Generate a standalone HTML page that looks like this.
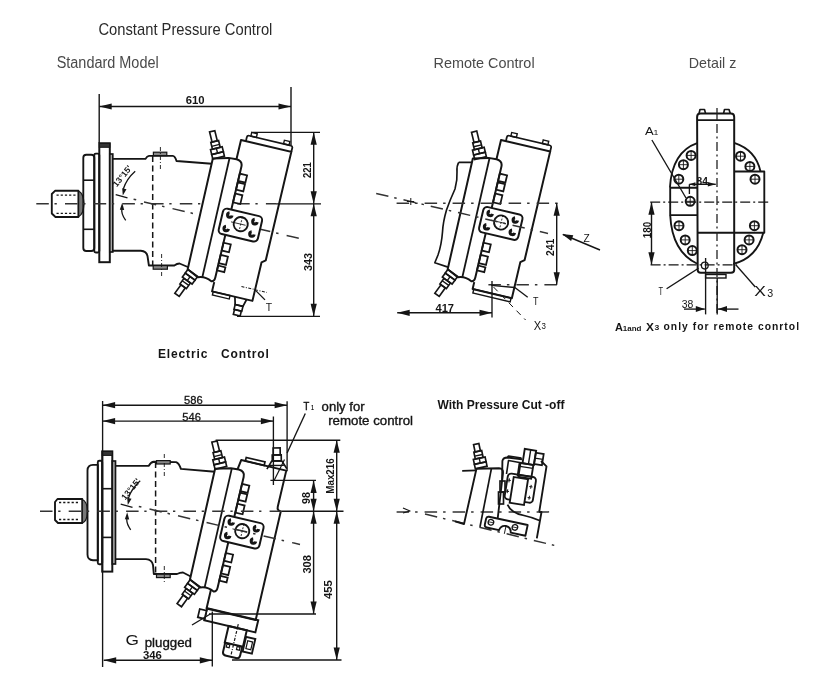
<!DOCTYPE html>
<html><head><meta charset="utf-8"><style>html,body{margin:0;padding:0;background:#fff;} svg{display:block}</style></head>
<body><svg width="822" height="676" viewBox="0 0 822 676">
<rect width="822" height="676" fill="#fff"/><g style="will-change:transform">
<text x="98.4" y="35" font-family="Liberation Sans" font-size="17" font-weight="normal" text-anchor="start" fill="#2a2a2a" textLength="174" lengthAdjust="spacingAndGlyphs">Constant Pressure Control</text>
<text x="56.7" y="67.8" font-family="Liberation Sans" font-size="16" font-weight="normal" text-anchor="start" fill="#4a4a4a" textLength="102" lengthAdjust="spacingAndGlyphs">Standard Model</text>
<text x="433.6" y="67.7" font-family="Liberation Sans" font-size="15" font-weight="normal" text-anchor="start" fill="#4a4a4a" textLength="101" lengthAdjust="spacingAndGlyphs">Remote Control</text>
<text x="688.8" y="67.7" font-family="Liberation Sans" font-size="15" font-weight="normal" text-anchor="start" fill="#4a4a4a" textLength="47.6" lengthAdjust="spacingAndGlyphs">Detail z</text>
<text x="157.9" y="357.5" font-family="Liberation Sans" font-size="12" font-weight="bold" text-anchor="start" fill="#151515" textLength="111" lengthAdjust="spacing">Electric&#160;&#160;&#160;Control</text>
<text x="437.5" y="409.3" font-family="Liberation Sans" font-size="13" font-weight="bold" text-anchor="start" fill="#151515" textLength="127" lengthAdjust="spacingAndGlyphs">With Pressure Cut -off</text>
<path d="M55,190.8 L78.4,190.8 L78.4,217 L55.5,217 L51.8,213.5 L51.8,194 Z" stroke="#151515" stroke-width="1.87" fill="none" stroke-linejoin="round"/>
<line x1="56.5" y1="195.1" x2="76" y2="195.1" stroke="#151515" stroke-width="1.3" stroke-dasharray="2.2 2"/>
<line x1="56.5" y1="213.3" x2="76" y2="213.3" stroke="#151515" stroke-width="1.3" stroke-dasharray="2.2 2"/>
<path d="M78.6,191 Q83.5,193 84,203.8 Q83.5,214.5 78.6,216.6 Z" stroke="#151515" stroke-width="1.2" fill="#777" stroke-linejoin="round"/>
<rect x="83.3" y="154.7" width="11.0" height="96.3" rx="3" stroke="#151515" stroke-width="1.87" fill="none"/>
<line x1="83.3" y1="180.2" x2="94.3" y2="180.2" stroke="#151515" stroke-width="1.6"/>
<line x1="83.3" y1="229.3" x2="94.3" y2="229.3" stroke="#151515" stroke-width="1.6"/>
<rect x="94.3" y="153.6" width="5.0" height="98.9" rx="1.5" stroke="#151515" stroke-width="1.87" fill="none"/>
<rect x="99.3" y="143.3" width="10.5" height="118.9" rx="0" stroke="#151515" stroke-width="1.98" fill="none"/>
<rect x="99.3" y="143.3" width="10.5" height="4.0" rx="0" stroke="#151515" stroke-width="1.0" fill="#333"/>
<rect x="109.8" y="154" width="3.0" height="98" rx="0" stroke="#151515" stroke-width="1.65" fill="#aaa"/>
<path d="M112.8,158.9 L145.5,158.9 Q147,156 149,155.9 L172.8,155.9 Q175,156 176.5,161 L211.8,163.8" stroke="#151515" stroke-width="1.87" fill="none" stroke-linejoin="round"/>
<path d="M112.8,250.7 L140.8,250.7 Q146.5,251 147.5,256 L148.9,265.5 L174.3,265.5 Q177,263.5 179.5,263.5 L189,267.5" stroke="#151515" stroke-width="1.87" fill="none" stroke-linejoin="round"/>
<rect x="153.4" y="152.2" width="13.4" height="3.4" rx="0" stroke="#151515" stroke-width="1.2" fill="#888"/>
<rect x="153.2" y="265.6" width="14.2" height="3.6" rx="0" stroke="#151515" stroke-width="1.2" fill="#888"/>
<line x1="152.7" y1="156" x2="152.7" y2="265.5" stroke="#151515" stroke-width="1.5" stroke-dasharray="6 3.5"/>
<line x1="160.4" y1="147" x2="160.4" y2="169" stroke="#151515" stroke-width="0.9" stroke-dasharray="4 2 1 2"/>
<line x1="161.6" y1="254" x2="161.6" y2="276" stroke="#151515" stroke-width="0.9" stroke-dasharray="4 2 1 2"/>
<line x1="115.7" y1="194.7" x2="127.5" y2="197.9" stroke="#151515" stroke-width="1.3"/>
<path d="M135.2,171.3 Q126.5,179 123.3,189" stroke="#151515" stroke-width="1.3" fill="none" stroke-linejoin="round"/>
<path d="M122.8,195.5 L122.2,188.2 L126.5,189.2 Z" fill="#151515"/>
<path d="M125.7,220.4 Q120.5,213 122.2,208" stroke="#151515" stroke-width="1.3" fill="none" stroke-linejoin="round"/>
<path d="M122.2,202.8 L124.2,209.9 L119.8,209.7 Z" fill="#151515"/>
<text x="124.5" y="178" font-family="Liberation Sans" font-size="8.5" font-weight="bold" text-anchor="middle" fill="#151515" transform="rotate(-51 124.5 178)">13°15'</text>
<line x1="36.3" y1="203.8" x2="276" y2="203.8" stroke="#333" stroke-width="1.6" stroke-dasharray="12.5 5.7 2.3 8.2"/>
<line x1="276" y1="203.8" x2="321" y2="203.8" stroke="#151515" stroke-width="1.35"/>
<line x1="133.6" y1="199.2" x2="136.2" y2="199.8" stroke="#333" stroke-width="1.5"/>
<line x1="144" y1="201.9" x2="300" y2="238.6" stroke="#333" stroke-width="1.5" stroke-dasharray="12.5 6 2.5 8.3"/>
<line x1="99.2" y1="94" x2="99.2" y2="143" stroke="#151515" stroke-width="1.4"/>
<line x1="291" y1="87" x2="291" y2="145" stroke="#151515" stroke-width="1.4"/>
<line x1="99.2" y1="106.5" x2="291" y2="106.5" stroke="#151515" stroke-width="1.4"/>
<path d="M99.2,106.5 L111.7,103.4 L111.7,109.6 Z" fill="#151515"/>
<path d="M291.0,106.5 L278.5,109.6 L278.5,103.4 Z" fill="#151515"/>
<text x="185.8" y="103.5" font-family="Liberation Sans" font-size="11" font-weight="bold" text-anchor="start" fill="#151515" textLength="18.87" lengthAdjust="spacingAndGlyphs">610</text>
<line x1="251" y1="132.3" x2="320" y2="132.3" stroke="#151515" stroke-width="1.35"/>
<line x1="237" y1="316.3" x2="320" y2="316.3" stroke="#151515" stroke-width="1.35"/>
<line x1="313.7" y1="132.3" x2="313.7" y2="203.8" stroke="#151515" stroke-width="1.4"/>
<path d="M313.7,132.3 L316.8,144.8 L310.6,144.8 Z" fill="#151515"/>
<path d="M313.7,203.8 L310.6,191.3 L316.8,191.3 Z" fill="#151515"/>
<line x1="313.7" y1="203.8" x2="313.7" y2="316.3" stroke="#151515" stroke-width="1.4"/>
<path d="M313.7,203.8 L316.8,216.3 L310.6,216.3 Z" fill="#151515"/>
<path d="M313.7,316.3 L310.6,303.8 L316.8,303.8 Z" fill="#151515"/>
<text x="311.3" y="178.1" font-family="Liberation Sans" font-size="10.5" font-weight="bold" text-anchor="start" fill="#151515" textLength="15.88" lengthAdjust="spacingAndGlyphs" transform="rotate(-90 311.3 178.1)">221</text>
<text x="311.6" y="271.0" font-family="Liberation Sans" font-size="11" font-weight="bold" text-anchor="start" fill="#151515" textLength="18.05" lengthAdjust="spacingAndGlyphs" transform="rotate(-90 311.6 271.0)">343</text>
<g transform="translate(0 0) rotate(13.25 153 204)">
<path d="M224,146 L224,121.5 L275.7,121.5 L275.7,233 L272.0,236 L272.0,275.5 L230.5,275.5 L230.5,266" stroke="#151515" stroke-width="1.98" fill="none" stroke-linejoin="round"/>
<path d="M229,121.5 L229,117.5 Q229,115.5 231,115.5 L273.7,115.5 Q275.7,115.5 275.7,117.5 L275.7,121.5" stroke="#151515" stroke-width="1.76" fill="none" stroke-linejoin="round"/>
<rect x="232.7" y="111.8" width="5.7" height="3.7" rx="0" stroke="#151515" stroke-width="1.4" fill="none"/>
<rect x="266.3" y="111.8" width="5.6" height="3.7" rx="0" stroke="#151515" stroke-width="1.4" fill="none"/>
<g transform="translate(0 0)">
<path d="M201.7,259.5 L200.8,146 L216,141.8 L224,141.3 Q230.5,141.5 230.5,147.5 L230.5,261 Q230.5,265.5 227.5,265.8 Q220,262 213.3,265 Z" stroke="#151515" stroke-width="1.98" fill="#fff" stroke-linejoin="round"/>
<line x1="217" y1="142" x2="217.8" y2="263.6" stroke="#151515" stroke-width="1.8"/>
<rect x="230.5" y="154.5" width="7.5" height="7.5" rx="0" stroke="#151515" stroke-width="1.76" fill="none"/>
<rect x="230.5" y="163.5" width="7.5" height="7.5" rx="0" stroke="#151515" stroke-width="1.76" fill="none"/>
<rect x="230.5" y="175" width="7.5" height="9" rx="0" stroke="#151515" stroke-width="1.76" fill="none"/>
<rect x="230.5" y="225.5" width="7.5" height="8.0" rx="0" stroke="#151515" stroke-width="1.76" fill="none"/>
<rect x="230.5" y="238" width="7.5" height="8.5" rx="0" stroke="#151515" stroke-width="1.76" fill="none"/>
<rect x="230.5" y="249" width="7.5" height="5" rx="0" stroke="#151515" stroke-width="1.76" fill="none"/>
<g transform="translate(206.2 143.7) rotate(-27) scale(1.0)">
<rect x="-6" y="-4.5" width="12" height="4.5" rx="0" stroke="#151515" stroke-width="1.65" fill="none"/>
<rect x="-6" y="-9.5" width="12" height="5.0" rx="0" stroke="#151515" stroke-width="1.65" fill="none"/>
<line x1="0" y1="-9.5" x2="0" y2="-4.5" stroke="#151515" stroke-width="1.4"/>
<rect x="-4" y="-16.5" width="8" height="7.0" rx="0" stroke="#151515" stroke-width="1.65" fill="none"/>
<line x1="-4" y1="-12.5" x2="4" y2="-12.5" stroke="#151515" stroke-width="1.4"/>
<rect x="-2.7" y="-27" width="5.4" height="10.5" rx="0" stroke="#151515" stroke-width="1.65" fill="none"/>
</g>
</g>
<g transform="translate(0 0)">
<rect x="222.8" y="191.5" width="40.2" height="26.0" rx="4" stroke="#151515" stroke-width="1.98" fill="#fff"/>
<circle cx="243" cy="203.5" r="7.1" stroke="#151515" stroke-width="1.87" fill="none"/>
<line x1="233" y1="203.5" x2="248" y2="203.5" stroke="#151515" stroke-width="0.8"/>
<line x1="243" y1="196" x2="243" y2="211" stroke="#151515" stroke-width="0.8" stroke-dasharray="2 1.5"/>
<path d="M232.60,197.10 A2.3,2.3 0 1 1 229.51,194.94" stroke="#151515" stroke-width="3" fill="none"/>
<path d="M258.60,197.80 A2.3,2.3 0 1 1 255.51,195.64" stroke="#151515" stroke-width="3" fill="none"/>
<path d="M232.20,211.00 A2.3,2.3 0 1 1 229.11,208.84" stroke="#151515" stroke-width="3" fill="none"/>
<path d="M258.50,210.50 A2.3,2.3 0 1 1 255.41,208.34" stroke="#151515" stroke-width="3" fill="none"/>
</g>
<g transform="translate(207.5 262) rotate(202.4) scale(1.0)">
<rect x="-6" y="-4.5" width="12" height="4.5" rx="0" stroke="#151515" stroke-width="1.65" fill="none"/>
<rect x="-6" y="-9.5" width="12" height="5.0" rx="0" stroke="#151515" stroke-width="1.65" fill="none"/>
<line x1="0" y1="-9.5" x2="0" y2="-4.5" stroke="#151515" stroke-width="1.4"/>
<rect x="-4" y="-16.5" width="8" height="7.0" rx="0" stroke="#151515" stroke-width="1.65" fill="none"/>
<line x1="-4" y1="-12.5" x2="4" y2="-12.5" stroke="#151515" stroke-width="1.4"/>
<rect x="-2.7" y="-27" width="5.4" height="10.5" rx="0" stroke="#151515" stroke-width="1.65" fill="none"/>
</g>
<rect x="231.7" y="275.5" width="17.3" height="3.5" rx="0" stroke="#151515" stroke-width="1.4" fill="none"/>
<path d="M254,275.5 L256,283 L264,283 L266,275.5" stroke="#151515" stroke-width="1.76" fill="none" stroke-linejoin="round"/>
<rect x="256" y="283" width="8" height="5" rx="0" stroke="#151515" stroke-width="1.65" fill="none"/>
<rect x="256.5" y="288" width="7.0" height="5" rx="0" stroke="#151515" stroke-width="1.65" fill="none"/>
<line x1="258" y1="264" x2="284" y2="264" stroke="#151515" stroke-width="1.0" stroke-dasharray="3 1.5 1 1.5"/>
</g>
<line x1="254.8" y1="289.6" x2="265" y2="299.9" stroke="#151515" stroke-width="1.35"/>
<text x="265.7" y="310.8" font-family="Liberation Sans" font-size="11" font-weight="normal" text-anchor="start" fill="#151515" textLength="6.35" lengthAdjust="spacingAndGlyphs">T</text>
<path d="M458.7,162.4 L472,162.4 M458.7,162.4 Q456.5,166 457,172 Q457.5,180 455,189 Q450,200 446.5,210 Q443,222 442.5,232 Q441.5,245 438,255 L434.8,262.7 L448,267.1" stroke="#151515" stroke-width="1.65" fill="none" stroke-linejoin="round"/>
<g transform="translate(260 0) rotate(13.25 153 204)">
<path d="M224,146 L224,121.5 L274.5,121.5 L274.5,233 L270.8,236 L270.8,273 L230.5,273 L230.5,266" stroke="#151515" stroke-width="1.98" fill="none" stroke-linejoin="round"/>
<path d="M229,121.5 L229,117.5 Q229,115.5 231,115.5 L272.5,115.5 Q274.5,115.5 274.5,117.5 L274.5,121.5" stroke="#151515" stroke-width="1.76" fill="none" stroke-linejoin="round"/>
<rect x="232.7" y="111.8" width="5.7" height="3.7" rx="0" stroke="#151515" stroke-width="1.4" fill="none"/>
<rect x="265.1" y="111.8" width="5.6" height="3.7" rx="0" stroke="#151515" stroke-width="1.4" fill="none"/>
<g transform="translate(0 0)">
<path d="M201.7,259.5 L200.8,146 L216,141.8 L224,141.3 Q230.5,141.5 230.5,147.5 L230.5,261 Q230.5,265.5 227.5,265.8 Q220,262 213.3,265 Z" stroke="#151515" stroke-width="1.98" fill="#fff" stroke-linejoin="round"/>
<line x1="217" y1="142" x2="217.8" y2="263.6" stroke="#151515" stroke-width="1.8"/>
<rect x="230.5" y="154.5" width="7.5" height="7.5" rx="0" stroke="#151515" stroke-width="1.76" fill="none"/>
<rect x="230.5" y="163.5" width="7.5" height="7.5" rx="0" stroke="#151515" stroke-width="1.76" fill="none"/>
<rect x="230.5" y="175" width="7.5" height="9" rx="0" stroke="#151515" stroke-width="1.76" fill="none"/>
<rect x="230.5" y="225.5" width="7.5" height="8.0" rx="0" stroke="#151515" stroke-width="1.76" fill="none"/>
<rect x="230.5" y="238" width="7.5" height="8.5" rx="0" stroke="#151515" stroke-width="1.76" fill="none"/>
<rect x="230.5" y="249" width="7.5" height="5" rx="0" stroke="#151515" stroke-width="1.76" fill="none"/>
<g transform="translate(208.2 143.7) rotate(-27) scale(1.0)">
<rect x="-6" y="-4.5" width="12" height="4.5" rx="0" stroke="#151515" stroke-width="1.65" fill="none"/>
<rect x="-6" y="-9.5" width="12" height="5.0" rx="0" stroke="#151515" stroke-width="1.65" fill="none"/>
<line x1="0" y1="-9.5" x2="0" y2="-4.5" stroke="#151515" stroke-width="1.4"/>
<rect x="-4" y="-16.5" width="8" height="7.0" rx="0" stroke="#151515" stroke-width="1.65" fill="none"/>
<line x1="-4" y1="-12.5" x2="4" y2="-12.5" stroke="#151515" stroke-width="1.4"/>
<rect x="-2.7" y="-27" width="5.4" height="10.5" rx="0" stroke="#151515" stroke-width="1.65" fill="none"/>
</g>
<g transform="translate(207.5 262) rotate(202.4) scale(1.0)">
<rect x="-6" y="-4.5" width="12" height="4.5" rx="0" stroke="#151515" stroke-width="1.65" fill="none"/>
<rect x="-6" y="-9.5" width="12" height="5.0" rx="0" stroke="#151515" stroke-width="1.65" fill="none"/>
<line x1="0" y1="-9.5" x2="0" y2="-4.5" stroke="#151515" stroke-width="1.4"/>
<rect x="-4" y="-16.5" width="8" height="7.0" rx="0" stroke="#151515" stroke-width="1.65" fill="none"/>
<line x1="-4" y1="-12.5" x2="4" y2="-12.5" stroke="#151515" stroke-width="1.4"/>
<rect x="-2.7" y="-27" width="5.4" height="10.5" rx="0" stroke="#151515" stroke-width="1.65" fill="none"/>
</g>
</g>
<g transform="translate(0 -1.7)">
<rect x="222.8" y="191.5" width="40.2" height="26.0" rx="4" stroke="#151515" stroke-width="1.98" fill="#fff"/>
<circle cx="243" cy="203.5" r="7.1" stroke="#151515" stroke-width="1.87" fill="none"/>
<line x1="233" y1="203.5" x2="248" y2="203.5" stroke="#151515" stroke-width="0.8"/>
<line x1="243" y1="196" x2="243" y2="211" stroke="#151515" stroke-width="0.8" stroke-dasharray="2 1.5"/>
<path d="M232.60,197.10 A2.3,2.3 0 1 1 229.51,194.94" stroke="#151515" stroke-width="3" fill="none"/>
<path d="M258.60,197.80 A2.3,2.3 0 1 1 255.51,195.64" stroke="#151515" stroke-width="3" fill="none"/>
<path d="M232.20,211.00 A2.3,2.3 0 1 1 229.11,208.84" stroke="#151515" stroke-width="3" fill="none"/>
<path d="M258.50,210.50 A2.3,2.3 0 1 1 255.41,208.34" stroke="#151515" stroke-width="3" fill="none"/>
</g>
<rect x="231.7" y="273" width="38.3" height="4" rx="0" stroke="#151515" stroke-width="1.4" fill="none"/>
</g>
<line x1="396.6" y1="203.2" x2="562" y2="203.2" stroke="#333" stroke-width="1.6" stroke-dasharray="12.5 6 2.5 7"/>
<line x1="376.2" y1="193.5" x2="548" y2="233.5" stroke="#333" stroke-width="1.5" stroke-dasharray="12.5 6 2.5 7"/>
<line x1="410.8" y1="198" x2="410.8" y2="205" stroke="#151515" stroke-width="1.0"/>
<line x1="407" y1="201.5" x2="414" y2="201.5" stroke="#151515" stroke-width="1.0"/>
<line x1="488.4" y1="284.7" x2="560" y2="284.7" stroke="#333" stroke-width="1.5" stroke-dasharray="12.5 6 2.5 7"/>
<line x1="556.7" y1="203.2" x2="556.7" y2="284.7" stroke="#151515" stroke-width="1.4"/>
<path d="M556.7,203.2 L559.8,215.7 L553.6,215.7 Z" fill="#151515"/>
<path d="M556.7,284.7 L553.6,272.2 L559.8,272.2 Z" fill="#151515"/>
<text x="554.2" y="255.9" font-family="Liberation Sans" font-size="11" font-weight="bold" text-anchor="start" fill="#151515" textLength="17.24" lengthAdjust="spacingAndGlyphs" transform="rotate(-90 554.2 255.9)">241</text>
<line x1="492" y1="281" x2="492" y2="317.4" stroke="#151515" stroke-width="1.35"/>
<line x1="397.2" y1="312.8" x2="492" y2="312.8" stroke="#151515" stroke-width="1.4"/>
<path d="M397.2,312.8 L409.7,309.7 L409.7,315.9 Z" fill="#151515"/>
<path d="M492.0,312.8 L479.5,315.9 L479.5,309.7 Z" fill="#151515"/>
<text x="435.5" y="312.2" font-family="Liberation Sans" font-size="11" font-weight="bold" text-anchor="start" fill="#151515" textLength="18.56" lengthAdjust="spacingAndGlyphs">417</text>
<line x1="491.3" y1="285.3" x2="514.7" y2="287.5" stroke="#151515" stroke-width="1.35"/>
<line x1="514.2" y1="287" x2="527.7" y2="297.3" stroke="#151515" stroke-width="1.35"/>
<text x="533.0" y="304.6" font-family="Liberation Sans" font-size="11" font-weight="normal" text-anchor="start" fill="#151515" textLength="5.48" lengthAdjust="spacingAndGlyphs">T</text>
<line x1="493.5" y1="287" x2="525.6" y2="320" stroke="#151515" stroke-width="1.0" stroke-dasharray="6 5"/>
<text x="533.8" y="330.0" font-family="Liberation Sans" font-size="12" font-weight="normal" text-anchor="start" fill="#151515" textLength="7.41" lengthAdjust="spacingAndGlyphs">X</text>
<text x="541.6" y="328.6" font-family="Liberation Sans" font-size="9" font-weight="normal" text-anchor="start" fill="#151515" textLength="4.41" lengthAdjust="spacingAndGlyphs">3</text>
<line x1="563" y1="234.5" x2="600" y2="250" stroke="#151515" stroke-width="1.4"/>
<path d="M562.0,234.0 L573.3,235.3 L571.1,240.9 Z" fill="#151515"/>
<text x="583.5" y="242.0" font-family="Liberation Sans" font-size="11" font-weight="normal" text-anchor="start" fill="#151515" textLength="6.25" lengthAdjust="spacingAndGlyphs">Z</text>
<path d="M697.1,143.2 Q672,152 669.9,187.7" stroke="#151515" stroke-width="1.87" fill="none" stroke-linejoin="round"/>
<path d="M734.2,142.8 Q756,150 760.5,171.5" stroke="#151515" stroke-width="1.87" fill="none" stroke-linejoin="round"/>
<path d="M670.2,215.1 Q672,252 697.7,264" stroke="#151515" stroke-width="1.87" fill="none" stroke-linejoin="round"/>
<path d="M763.3,232.8 Q757,258 733.2,264" stroke="#151515" stroke-width="1.87" fill="none" stroke-linejoin="round"/>
<path d="M669.9,187.7 L697.1,187.7 M670.2,187.7 L670.2,215.1 L697.7,215.1" stroke="#151515" stroke-width="1.87" fill="none" stroke-linejoin="round"/>
<path d="M734.2,171.5 L764.3,171.5 L764.3,232.8 L697.7,232.8" stroke="#151515" stroke-width="1.87" fill="none" stroke-linejoin="round"/>
<path d="M697.1,117 Q697.1,113.6 700.5,113.6 L730.8,113.6 Q734.2,113.6 734.2,117 L734.2,270 Q734.2,272.7 731,272.7 L700.7,272.7 Q697.7,272.7 697.7,270 Z" stroke="#151515" stroke-width="1.98" fill="none" stroke-linejoin="round"/>
<line x1="697.1" y1="120.1" x2="734.2" y2="120.1" stroke="#151515" stroke-width="1.6"/>
<path d="M699,113.6 L700,109.5 L704.5,109.5 L705.6,113.6" stroke="#151515" stroke-width="1.65" fill="none" stroke-linejoin="round"/>
<path d="M723.5,113.6 L724.5,109.5 L729,109.5 L730.3,113.6" stroke="#151515" stroke-width="1.65" fill="none" stroke-linejoin="round"/>
<rect x="705.6" y="274.5" width="20.4" height="3.5" rx="0" stroke="#151515" stroke-width="1.4" fill="none"/>
<line x1="717" y1="108" x2="717" y2="120" stroke="#222" stroke-width="1.3"/>
<line x1="717" y1="124" x2="717" y2="314" stroke="#222" stroke-width="1.3" stroke-dasharray="9 3.5 2 3.5"/>
<circle cx="691.1" cy="155.4" r="4.5" stroke="#151515" stroke-width="1.98" fill="none"/>
<line x1="686.6" y1="155.4" x2="695.6" y2="155.4" stroke="#151515" stroke-width="0.9"/>
<line x1="691.1" y1="150.9" x2="691.1" y2="159.9" stroke="#151515" stroke-width="0.9"/>
<circle cx="683.4" cy="164.7" r="4.5" stroke="#151515" stroke-width="1.98" fill="none"/>
<line x1="678.9" y1="164.7" x2="687.9" y2="164.7" stroke="#151515" stroke-width="0.9"/>
<line x1="683.4" y1="160.2" x2="683.4" y2="169.2" stroke="#151515" stroke-width="0.9"/>
<circle cx="678.8" cy="179.2" r="4.5" stroke="#151515" stroke-width="1.98" fill="none"/>
<line x1="674.3" y1="179.2" x2="683.3" y2="179.2" stroke="#151515" stroke-width="0.9"/>
<line x1="678.8" y1="174.7" x2="678.8" y2="183.7" stroke="#151515" stroke-width="0.9"/>
<circle cx="690.2" cy="201.3" r="4.5" stroke="#151515" stroke-width="1.98" fill="none"/>
<line x1="685.7" y1="201.3" x2="694.7" y2="201.3" stroke="#151515" stroke-width="0.9"/>
<line x1="690.2" y1="196.8" x2="690.2" y2="205.8" stroke="#151515" stroke-width="0.9"/>
<circle cx="679" cy="225.7" r="4.5" stroke="#151515" stroke-width="1.98" fill="none"/>
<line x1="674.5" y1="225.7" x2="683.5" y2="225.7" stroke="#151515" stroke-width="0.9"/>
<line x1="679" y1="221.2" x2="679" y2="230.2" stroke="#151515" stroke-width="0.9"/>
<circle cx="685.2" cy="239.9" r="4.5" stroke="#151515" stroke-width="1.98" fill="none"/>
<line x1="680.7" y1="239.9" x2="689.7" y2="239.9" stroke="#151515" stroke-width="0.9"/>
<line x1="685.2" y1="235.4" x2="685.2" y2="244.4" stroke="#151515" stroke-width="0.9"/>
<circle cx="692.3" cy="250.6" r="4.5" stroke="#151515" stroke-width="1.98" fill="none"/>
<line x1="687.8" y1="250.6" x2="696.8" y2="250.6" stroke="#151515" stroke-width="0.9"/>
<line x1="692.3" y1="246.1" x2="692.3" y2="255.1" stroke="#151515" stroke-width="0.9"/>
<circle cx="740.5" cy="156.2" r="4.5" stroke="#151515" stroke-width="1.98" fill="none"/>
<line x1="736.0" y1="156.2" x2="745.0" y2="156.2" stroke="#151515" stroke-width="0.9"/>
<line x1="740.5" y1="151.7" x2="740.5" y2="160.7" stroke="#151515" stroke-width="0.9"/>
<circle cx="749.9" cy="166.4" r="4.5" stroke="#151515" stroke-width="1.98" fill="none"/>
<line x1="745.4" y1="166.4" x2="754.4" y2="166.4" stroke="#151515" stroke-width="0.9"/>
<line x1="749.9" y1="161.9" x2="749.9" y2="170.9" stroke="#151515" stroke-width="0.9"/>
<circle cx="755" cy="179.2" r="4.5" stroke="#151515" stroke-width="1.98" fill="none"/>
<line x1="750.5" y1="179.2" x2="759.5" y2="179.2" stroke="#151515" stroke-width="0.9"/>
<line x1="755" y1="174.7" x2="755" y2="183.7" stroke="#151515" stroke-width="0.9"/>
<circle cx="754.4" cy="225.7" r="4.5" stroke="#151515" stroke-width="1.98" fill="none"/>
<line x1="749.9" y1="225.7" x2="758.9" y2="225.7" stroke="#151515" stroke-width="0.9"/>
<line x1="754.4" y1="221.2" x2="754.4" y2="230.2" stroke="#151515" stroke-width="0.9"/>
<circle cx="749.1" cy="239.9" r="4.5" stroke="#151515" stroke-width="1.98" fill="none"/>
<line x1="744.6" y1="239.9" x2="753.6" y2="239.9" stroke="#151515" stroke-width="0.9"/>
<line x1="749.1" y1="235.4" x2="749.1" y2="244.4" stroke="#151515" stroke-width="0.9"/>
<circle cx="742" cy="249.7" r="4.5" stroke="#151515" stroke-width="1.98" fill="none"/>
<line x1="737.5" y1="249.7" x2="746.5" y2="249.7" stroke="#151515" stroke-width="0.9"/>
<line x1="742" y1="245.2" x2="742" y2="254.2" stroke="#151515" stroke-width="0.9"/>
<circle cx="704.8" cy="265.6" r="3.4" stroke="#151515" stroke-width="1.3" fill="none"/>
<line x1="650.2" y1="202.2" x2="769.4" y2="202.2" stroke="#151515" stroke-width="1.2" stroke-dasharray="10 3 2 3"/>
<line x1="650.6" y1="264.8" x2="736.7" y2="264.8" stroke="#151515" stroke-width="1.2" stroke-dasharray="10 3 2 3"/>
<line x1="651.5" y1="202.2" x2="651.5" y2="264.8" stroke="#151515" stroke-width="1.4"/>
<path d="M651.5,202.2 L654.6,214.7 L648.4,214.7 Z" fill="#151515"/>
<path d="M651.5,264.8 L648.4,252.3 L654.6,252.3 Z" fill="#151515"/>
<text x="650.7" y="238.2" font-family="Liberation Sans" font-size="10" font-weight="bold" text-anchor="start" fill="#151515" textLength="16.58" lengthAdjust="spacingAndGlyphs" transform="rotate(-90 650.7 238.2)">180</text>
<line x1="689.4" y1="184.3" x2="715.8" y2="184.3" stroke="#151515" stroke-width="1.35"/>
<path d="M715.8,184.3 L707.8,186.5 L707.8,182.1 Z" fill="#151515"/>
<path d="M689.4,184.3 L695.4,182.3 L695.4,186.3 Z" fill="#151515"/>
<line x1="689.4" y1="184.3" x2="689.4" y2="194" stroke="#151515" stroke-width="1.35"/>
<text x="696.6" y="184.8" font-family="Liberation Sans" font-size="10" font-weight="bold" text-anchor="start" fill="#151515" textLength="11.33" lengthAdjust="spacingAndGlyphs">84</text>
<text x="645.1" y="134.5" font-family="Liberation Sans" font-size="11" font-weight="normal" text-anchor="start" fill="#151515" textLength="8.71" lengthAdjust="spacingAndGlyphs">A</text>
<text x="653.6" y="134.5" font-family="Liberation Sans" font-size="7.5" font-weight="normal" text-anchor="start" fill="#151515" textLength="4.87" lengthAdjust="spacingAndGlyphs">1</text>
<line x1="651.9" y1="140" x2="686" y2="198" stroke="#151515" stroke-width="1.35"/>
<line x1="666.6" y1="288.7" x2="698.5" y2="268.3" stroke="#151515" stroke-width="1.35"/>
<text x="658.6" y="294.9" font-family="Liberation Sans" font-size="10" font-weight="normal" text-anchor="start" fill="#151515" textLength="4.58" lengthAdjust="spacingAndGlyphs">T</text>
<line x1="735.8" y1="264.8" x2="755.3" y2="287" stroke="#151515" stroke-width="1.35"/>
<text x="754.3" y="296.0" font-family="Liberation Sans" font-size="15" font-weight="normal" text-anchor="start" fill="#151515" textLength="11.62" lengthAdjust="spacingAndGlyphs">X</text>
<text x="767.2" y="296.7" font-family="Liberation Sans" font-size="11" font-weight="normal" text-anchor="start" fill="#151515" textLength="5.92" lengthAdjust="spacingAndGlyphs">3</text>
<line x1="705.6" y1="258" x2="705.6" y2="314.4" stroke="#151515" stroke-width="1.35"/>
<line x1="717.2" y1="278" x2="717.2" y2="314.4" stroke="#151515" stroke-width="1.35"/>
<line x1="684" y1="309.1" x2="704.8" y2="309.1" stroke="#151515" stroke-width="1.35"/>
<path d="M704.8,309.1 L695.8,312.1 L695.8,306.1 Z" fill="#151515"/>
<line x1="718" y1="309.1" x2="738.5" y2="309.1" stroke="#151515" stroke-width="1.35"/>
<path d="M718.0,309.1 L727.0,306.1 L727.0,312.1 Z" fill="#151515"/>
<text x="681.7" y="308.2" font-family="Liberation Sans" font-size="10" font-weight="normal" text-anchor="start" fill="#151515" textLength="11.63" lengthAdjust="spacingAndGlyphs">38</text>
<text x="614.9" y="330.9" font-family="Liberation Sans" font-size="10.5" font-weight="bold" text-anchor="start" fill="#151515" textLength="7.92" lengthAdjust="spacingAndGlyphs">A</text>
<text x="622.8" y="330.6" font-family="Liberation Sans" font-size="7" font-weight="bold" text-anchor="start" fill="#151515" textLength="18.59" lengthAdjust="spacingAndGlyphs">1and</text>
<text x="645.9" y="330.9" font-family="Liberation Sans" font-size="10.5" font-weight="bold" text-anchor="start" fill="#151515" textLength="7.92" lengthAdjust="spacingAndGlyphs">X</text>
<text x="654.4" y="329.5" font-family="Liberation Sans" font-size="8" font-weight="bold" text-anchor="start" fill="#151515" textLength="4.79" lengthAdjust="spacingAndGlyphs">3</text>
<text x="663.5" y="330.3" font-family="Liberation Sans" font-size="10.3" font-weight="bold" text-anchor="start" fill="#151515" textLength="135.5" lengthAdjust="spacing">only for remote conrtol</text>
<path d="M57.5,499 L82.3,499 L82.3,523 L58,523 L55,520 L55,502 Z" stroke="#151515" stroke-width="1.87" fill="none" stroke-linejoin="round"/>
<line x1="59" y1="502.5" x2="80" y2="502.5" stroke="#151515" stroke-width="1.3" stroke-dasharray="2.2 2"/>
<line x1="59" y1="519.5" x2="80" y2="519.5" stroke="#151515" stroke-width="1.3" stroke-dasharray="2.2 2"/>
<path d="M82.3,499.5 Q87,501 87.5,511.5 Q87,522 82.3,523 Z" stroke="#151515" stroke-width="1.2" fill="#777" stroke-linejoin="round"/>
<path d="M97.8,464.9 L93,464.9 Q87.5,464.9 87.5,470.5 L87.5,554.6 Q87.5,560.2 93,560.2 L97.8,560.2 Z" stroke="#151515" stroke-width="1.87" fill="none" stroke-linejoin="round"/>
<rect x="97.8" y="460.7" width="4.4" height="103.6" rx="1.5" stroke="#151515" stroke-width="1.87" fill="none"/>
<rect x="102.2" y="451.4" width="10.1" height="120.2" rx="0" stroke="#151515" stroke-width="1.98" fill="none"/>
<rect x="102.2" y="451.4" width="10.1" height="4.0" rx="0" stroke="#151515" stroke-width="1.0" fill="#333"/>
<line x1="102.2" y1="488.7" x2="112.3" y2="488.7" stroke="#151515" stroke-width="1.6"/>
<line x1="102.2" y1="537.4" x2="112.3" y2="537.4" stroke="#151515" stroke-width="1.6"/>
<rect x="112.3" y="461" width="3.2" height="103" rx="0" stroke="#151515" stroke-width="1.65" fill="#aaa"/>
<path d="M115.5,465.9 L148.6,465.9 Q151,462 153.8,461.8 L176,462.1 Q179,463 180.9,468.9 L215,471.8" stroke="#151515" stroke-width="1.87" fill="none" stroke-linejoin="round"/>
<path d="M115.5,559.1 L146,559.1 Q152,559.5 153,565 L153.8,574 L177,574 Q180,572.5 183,572.5 L192.7,577.5" stroke="#151515" stroke-width="1.87" fill="none" stroke-linejoin="round"/>
<rect x="156.5" y="460.6" width="13.7" height="3.4" rx="0" stroke="#151515" stroke-width="1.2" fill="#888"/>
<rect x="156.5" y="574.2" width="13.7" height="3.4" rx="0" stroke="#151515" stroke-width="1.2" fill="#888"/>
<line x1="155.6" y1="462" x2="155.6" y2="574" stroke="#151515" stroke-width="1.5" stroke-dasharray="6 3.5"/>
<line x1="164.3" y1="454" x2="164.3" y2="476" stroke="#151515" stroke-width="0.9" stroke-dasharray="4 2 1 2"/>
<line x1="164.3" y1="566" x2="164.3" y2="584" stroke="#151515" stroke-width="0.9" stroke-dasharray="4 2 1 2"/>
<line x1="120.7" y1="504.2" x2="132.5" y2="507.4" stroke="#151515" stroke-width="1.3"/>
<path d="M140.2,480.8 Q131.5,488.5 128.3,498.5" stroke="#151515" stroke-width="1.3" fill="none" stroke-linejoin="round"/>
<path d="M127.8,505.0 L127.2,497.7 L131.5,498.7 Z" fill="#151515"/>
<path d="M130.7,529.9 Q125.5,522.5 127.2,517.5" stroke="#151515" stroke-width="1.3" fill="none" stroke-linejoin="round"/>
<path d="M127.2,512.3 L129.2,519.4 L124.8,519.2 Z" fill="#151515"/>
<text x="133.0" y="491.0" font-family="Liberation Sans" font-size="8.5" font-weight="bold" text-anchor="middle" fill="#151515" transform="rotate(-51 133.0 491.0)">13°15'</text>
<g transform="translate(1.5 307) rotate(13.25 153 204)">
<path d="M224,146 L225.7,134.5 L272,134.5 L272,171.6 Q272,175.5 276,175.5 L276.5,287 L226,287 L226,266" stroke="#151515" stroke-width="1.98" fill="none" stroke-linejoin="round"/>
<rect x="230" y="130.8" width="19.3" height="3.7" rx="0" stroke="#151515" stroke-width="1.65" fill="none"/>
<g transform="translate(262.5 135) rotate(-14)">
<path d="M-10,0 L-5,-8 L5,-8 L10,0" stroke="#151515" stroke-width="1.65" fill="none" stroke-linejoin="round"/>
<line x1="-7" y1="-3.5" x2="7" y2="-3.5" stroke="#151515" stroke-width="1.4"/>
<rect x="-4.5" y="-14" width="9.0" height="6" rx="0" stroke="#151515" stroke-width="1.65" fill="none"/>
<rect x="-3.5" y="-21" width="7.0" height="7" rx="0" stroke="#151515" stroke-width="1.65" fill="none"/>
</g>
<rect x="226.5" y="286.5" width="52.5" height="12.5" rx="0" stroke="#151515" stroke-width="1.98" fill="none"/>
<rect x="219.5" y="289" width="7.0" height="8.5" rx="0" stroke="#151515" stroke-width="1.76" fill="#fff"/>
<rect x="251.5" y="299" width="18.7" height="16.8" rx="0" stroke="#151515" stroke-width="1.98" fill="none"/>
<path d="M252,315.8 L252,325 Q252,328.5 256,328.5 L266,328.5 Q269.5,328.5 269.5,325 L269.5,315.8" stroke="#151515" stroke-width="1.98" fill="none" stroke-linejoin="round"/>
<rect x="254" y="317" width="3" height="3" rx="0" stroke="#151515" stroke-width="1.2" fill="none"/>
<rect x="264.5" y="317" width="3.0" height="3" rx="0" stroke="#151515" stroke-width="1.2" fill="none"/>
<line x1="260.5" y1="295" x2="260.5" y2="326" stroke="#151515" stroke-width="1.2" stroke-dasharray="3 1.5 1 1.5"/>
<rect x="271" y="305.5" width="9.5" height="15.0" rx="0" stroke="#151515" stroke-width="1.87" fill="none"/>
<rect x="273.5" y="309" width="5.0" height="8" rx="0" stroke="#151515" stroke-width="1.2" fill="none"/>
<g transform="translate(1.5 3)">
<path d="M201.7,259.5 L200.8,146 L216,141.8 L224,141.3 Q230.5,141.5 230.5,147.5 L230.5,261 Q230.5,265.5 227.5,265.8 Q220,262 213.3,265 Z" stroke="#151515" stroke-width="1.98" fill="#fff" stroke-linejoin="round"/>
<line x1="217" y1="142" x2="217.8" y2="263.6" stroke="#151515" stroke-width="1.8"/>
<rect x="230.5" y="154.5" width="7.5" height="7.5" rx="0" stroke="#151515" stroke-width="1.76" fill="none"/>
<rect x="230.5" y="163.5" width="7.5" height="7.5" rx="0" stroke="#151515" stroke-width="1.76" fill="none"/>
<rect x="230.5" y="175" width="7.5" height="9" rx="0" stroke="#151515" stroke-width="1.76" fill="none"/>
<rect x="230.5" y="225.5" width="7.5" height="8.0" rx="0" stroke="#151515" stroke-width="1.76" fill="none"/>
<rect x="230.5" y="238" width="7.5" height="8.5" rx="0" stroke="#151515" stroke-width="1.76" fill="none"/>
<rect x="230.5" y="249" width="7.5" height="5" rx="0" stroke="#151515" stroke-width="1.76" fill="none"/>
<g transform="translate(206.2 143.7) rotate(-27) scale(1.0)">
<rect x="-6" y="-4.5" width="12" height="4.5" rx="0" stroke="#151515" stroke-width="1.65" fill="none"/>
<rect x="-6" y="-9.5" width="12" height="5.0" rx="0" stroke="#151515" stroke-width="1.65" fill="none"/>
<line x1="0" y1="-9.5" x2="0" y2="-4.5" stroke="#151515" stroke-width="1.4"/>
<rect x="-4" y="-16.5" width="8" height="7.0" rx="0" stroke="#151515" stroke-width="1.65" fill="none"/>
<line x1="-4" y1="-12.5" x2="4" y2="-12.5" stroke="#151515" stroke-width="1.4"/>
<rect x="-2.7" y="-27" width="5.4" height="10.5" rx="0" stroke="#151515" stroke-width="1.65" fill="none"/>
</g>
<g transform="translate(207.5 262) rotate(202.4) scale(1.0)">
<rect x="-6" y="-4.5" width="12" height="4.5" rx="0" stroke="#151515" stroke-width="1.65" fill="none"/>
<rect x="-6" y="-9.5" width="12" height="5.0" rx="0" stroke="#151515" stroke-width="1.65" fill="none"/>
<line x1="0" y1="-9.5" x2="0" y2="-4.5" stroke="#151515" stroke-width="1.4"/>
<rect x="-4" y="-16.5" width="8" height="7.0" rx="0" stroke="#151515" stroke-width="1.65" fill="none"/>
<line x1="-4" y1="-12.5" x2="4" y2="-12.5" stroke="#151515" stroke-width="1.4"/>
<rect x="-2.7" y="-27" width="5.4" height="10.5" rx="0" stroke="#151515" stroke-width="1.65" fill="none"/>
</g>
</g>
<g transform="translate(0 0)">
<rect x="222.8" y="191.5" width="40.2" height="26.0" rx="4" stroke="#151515" stroke-width="1.98" fill="#fff"/>
<circle cx="243" cy="203.5" r="7.1" stroke="#151515" stroke-width="1.87" fill="none"/>
<line x1="233" y1="203.5" x2="248" y2="203.5" stroke="#151515" stroke-width="0.8"/>
<line x1="243" y1="196" x2="243" y2="211" stroke="#151515" stroke-width="0.8" stroke-dasharray="2 1.5"/>
<path d="M232.60,197.10 A2.3,2.3 0 1 1 229.51,194.94" stroke="#151515" stroke-width="3" fill="none"/>
<path d="M258.60,197.80 A2.3,2.3 0 1 1 255.51,195.64" stroke="#151515" stroke-width="3" fill="none"/>
<path d="M232.20,211.00 A2.3,2.3 0 1 1 229.11,208.84" stroke="#151515" stroke-width="3" fill="none"/>
<path d="M258.50,210.50 A2.3,2.3 0 1 1 255.41,208.34" stroke="#151515" stroke-width="3" fill="none"/>
</g>
</g>
<line x1="40" y1="511.2" x2="282" y2="511.2" stroke="#333" stroke-width="1.6" stroke-dasharray="12.5 5.7 2.3 8.2"/>
<line x1="282" y1="511.2" x2="343.5" y2="511.2" stroke="#151515" stroke-width="1.35"/>
<line x1="138.8" y1="506.4" x2="141.4" y2="507" stroke="#333" stroke-width="1.5"/>
<line x1="149.5" y1="509.1" x2="300" y2="544.5" stroke="#333" stroke-width="1.5" stroke-dasharray="12.5 6 2.5 8.3"/>
<line x1="102.6" y1="401" x2="102.6" y2="667" stroke="#151515" stroke-width="1.35"/>
<line x1="102.6" y1="405.2" x2="287.1" y2="405.2" stroke="#151515" stroke-width="1.4"/>
<path d="M102.6,405.2 L115.1,402.1 L115.1,408.3 Z" fill="#151515"/>
<path d="M287.1,405.2 L274.6,408.3 L274.6,402.1 Z" fill="#151515"/>
<line x1="287.1" y1="401.3" x2="287.1" y2="471.2" stroke="#151515" stroke-width="1.35"/>
<line x1="102.6" y1="421.1" x2="273.4" y2="421.1" stroke="#151515" stroke-width="1.4"/>
<path d="M102.6,421.1 L115.1,418.0 L115.1,424.2 Z" fill="#151515"/>
<path d="M273.4,421.1 L260.9,424.2 L260.9,418.0 Z" fill="#151515"/>
<line x1="273.4" y1="416.5" x2="273.4" y2="485" stroke="#151515" stroke-width="1.35"/>
<g stroke="#151515" stroke-width="0.3">
<text x="184.1" y="404.2" font-family="Liberation Sans" font-size="11" font-weight="normal" text-anchor="start" fill="#151515" textLength="18.67" lengthAdjust="spacingAndGlyphs">586</text>
</g>
<g stroke="#151515" stroke-width="0.3">
<text x="182.3" y="421.0" font-family="Liberation Sans" font-size="11" font-weight="normal" text-anchor="start" fill="#151515" textLength="18.56" lengthAdjust="spacingAndGlyphs">546</text>
</g>
<g stroke="#151515" stroke-width="0.5">
<text x="303.4" y="409.8" font-family="Liberation Sans" font-size="11" font-weight="normal" text-anchor="start" fill="#151515" textLength="5.77" lengthAdjust="spacingAndGlyphs">T</text>
</g>
<text x="311.0" y="410.0" font-family="Liberation Sans" font-size="7" font-weight="bold" text-anchor="start" fill="#151515" textLength="2.93" lengthAdjust="spacingAndGlyphs">1</text>
<g stroke="#151515" stroke-width="0.35">
<text x="321.6" y="410.8" font-family="Liberation Sans" font-size="12" font-weight="normal" text-anchor="start" fill="#151515" textLength="42.99" lengthAdjust="spacingAndGlyphs">only for</text>
</g>
<g stroke="#151515" stroke-width="0.35">
<text x="328.2" y="425.3" font-family="Liberation Sans" font-size="12" font-weight="normal" text-anchor="start" fill="#151515" textLength="84.78" lengthAdjust="spacingAndGlyphs">remote control</text>
</g>
<line x1="305.3" y1="413.5" x2="287.1" y2="453" stroke="#151515" stroke-width="1.35"/>
<line x1="284.5" y1="459.6" x2="274" y2="480.8" stroke="#151515" stroke-width="1.2"/>
<line x1="215.6" y1="440.2" x2="340.3" y2="440.2" stroke="#151515" stroke-width="1.35"/>
<line x1="336.7" y1="440.2" x2="336.7" y2="511.2" stroke="#151515" stroke-width="1.4"/>
<path d="M336.7,440.2 L339.8,452.7 L333.6,452.7 Z" fill="#151515"/>
<path d="M336.7,511.2 L333.6,498.7 L339.8,498.7 Z" fill="#151515"/>
<text x="334.3" y="493.7" font-family="Liberation Sans" font-size="10" font-weight="bold" text-anchor="start" fill="#151515" textLength="35.44" lengthAdjust="spacingAndGlyphs" transform="rotate(-90 334.3 493.7)">Max216</text>
<line x1="270.4" y1="480.4" x2="316" y2="480.4" stroke="#151515" stroke-width="1.35"/>
<line x1="313.6" y1="480.4" x2="313.6" y2="511.2" stroke="#151515" stroke-width="1.4"/>
<path d="M313.6,480.4 L316.7,492.9 L310.5,492.9 Z" fill="#151515"/>
<path d="M313.6,511.2 L310.5,498.7 L316.7,498.7 Z" fill="#151515"/>
<text x="310.3" y="504.0" font-family="Liberation Sans" font-size="10" font-weight="bold" text-anchor="start" fill="#151515" textLength="11.93" lengthAdjust="spacingAndGlyphs" transform="rotate(-90 310.3 504.0)">98</text>
<line x1="209" y1="614" x2="316" y2="614" stroke="#151515" stroke-width="1.35"/>
<line x1="313.6" y1="511.2" x2="313.6" y2="614" stroke="#151515" stroke-width="1.4"/>
<path d="M313.6,511.2 L316.7,523.7 L310.5,523.7 Z" fill="#151515"/>
<path d="M313.6,614.0 L310.5,601.5 L316.7,601.5 Z" fill="#151515"/>
<text x="310.7" y="573.6" font-family="Liberation Sans" font-size="11" font-weight="bold" text-anchor="start" fill="#151515" textLength="18.67" lengthAdjust="spacingAndGlyphs" transform="rotate(-90 310.7 573.6)">308</text>
<line x1="232" y1="660" x2="341.5" y2="660" stroke="#151515" stroke-width="1.35"/>
<line x1="336.7" y1="511.2" x2="336.7" y2="660" stroke="#151515" stroke-width="1.4"/>
<path d="M336.7,511.2 L339.8,523.7 L333.6,523.7 Z" fill="#151515"/>
<path d="M336.7,660.0 L333.6,647.5 L339.8,647.5 Z" fill="#151515"/>
<text x="332.3" y="599.1" font-family="Liberation Sans" font-size="11" font-weight="bold" text-anchor="start" fill="#151515" textLength="19.07" lengthAdjust="spacingAndGlyphs" transform="rotate(-90 332.3 599.1)">455</text>
<line x1="103.7" y1="660.3" x2="212.3" y2="660.3" stroke="#151515" stroke-width="1.4"/>
<path d="M103.7,660.3 L116.2,657.2 L116.2,663.4 Z" fill="#151515"/>
<path d="M212.3,660.3 L199.8,663.4 L199.8,657.2 Z" fill="#151515"/>
<line x1="212.3" y1="611.6" x2="212.3" y2="666.4" stroke="#151515" stroke-width="1.35"/>
<text x="125.5" y="645.4" font-family="Liberation Sans" font-size="15" font-weight="normal" text-anchor="start" fill="#151515" textLength="13.42" lengthAdjust="spacingAndGlyphs">G</text>
<g stroke="#151515" stroke-width="0.35">
<text x="144.7" y="646.6" font-family="Liberation Sans" font-size="13" font-weight="normal" text-anchor="start" fill="#151515" textLength="47.31" lengthAdjust="spacingAndGlyphs">plugged</text>
</g>
<text x="142.9" y="658.7" font-family="Liberation Sans" font-size="11" font-weight="bold" text-anchor="start" fill="#151515" textLength="18.97" lengthAdjust="spacingAndGlyphs">346</text>
<line x1="192" y1="625" x2="210.3" y2="614" stroke="#151515" stroke-width="1.35"/>
<line x1="396.6" y1="511.9" x2="555" y2="511.9" stroke="#333" stroke-width="1.5" stroke-dasharray="12.5 6 2.5 7"/>
<line x1="425" y1="514" x2="561" y2="547" stroke="#333" stroke-width="1.5" stroke-dasharray="12.5 6 2.5 7"/>
<path d="M403,508 L410,511 L403,513" stroke="#151515" stroke-width="1.2" fill="none" stroke-linejoin="round"/>
<g transform="translate(481.2 467.5) rotate(-12)">
<rect x="-6" y="-4.5" width="12" height="4.5" rx="0" stroke="#151515" stroke-width="1.65" fill="none"/>
<rect x="-6" y="-9.5" width="12" height="5.0" rx="0" stroke="#151515" stroke-width="1.65" fill="none"/>
<line x1="0" y1="-9.5" x2="0" y2="-4.5" stroke="#151515" stroke-width="1.4"/>
<rect x="-4" y="-16.5" width="8" height="7.0" rx="0" stroke="#151515" stroke-width="1.65" fill="none"/>
<line x1="-4" y1="-12.5" x2="4" y2="-12.5" stroke="#151515" stroke-width="1.4"/>
<rect x="-2.7" y="-24" width="5.4" height="7.5" rx="0" stroke="#151515" stroke-width="1.65" fill="none"/>
</g>
<line x1="462.2" y1="470.8" x2="476.4" y2="470.3" stroke="#151515" stroke-width="1.7"/>
<path d="M476.4,469 L464,524 L455,521.4" stroke="#151515" stroke-width="1.87" fill="none" stroke-linejoin="round"/>
<path d="M476.4,468.8 L499,468.2 Q503.5,468.5 503,473 L497.5,520" stroke="#151515" stroke-width="1.87" fill="none" stroke-linejoin="round"/>
<line x1="491.5" y1="468.2" x2="480" y2="526.8" stroke="#151515" stroke-width="1.7"/>
<rect x="500" y="481" width="5" height="11" rx="0" stroke="#151515" stroke-width="1.65" fill="none"/>
<rect x="498.5" y="492" width="5.0" height="12" rx="0" stroke="#151515" stroke-width="1.65" fill="none"/>
<path d="M502.1,481 L502.4,461 Q503,457.5 507.5,457.5 L522,459.3" stroke="#151515" stroke-width="1.87" fill="none" stroke-linejoin="round"/>
<path d="M507.5,457.5 L508.5,456 L521.5,458" stroke="#151515" stroke-width="1.65" fill="none" stroke-linejoin="round"/>
<path d="M506.5,474 L508.5,460.5 L519.5,462.5 L517.5,476" stroke="#151515" stroke-width="1.65" fill="none" stroke-linejoin="round"/>
<path d="M541,461 L546.5,466.4 L539.4,510.8 Q539,512.5 541.5,512 L536.8,538.3" stroke="#151515" stroke-width="1.87" fill="none" stroke-linejoin="round"/>
<g transform="rotate(9 527 470)">
<rect x="521.5" y="449.5" width="11.5" height="14.5" rx="0" stroke="#151515" stroke-width="1.87" fill="none"/>
<line x1="527.5" y1="449.5" x2="527.5" y2="464" stroke="#151515" stroke-width="1.4"/>
<rect x="533" y="451.5" width="8" height="11.5" rx="0" stroke="#151515" stroke-width="1.76" fill="none"/>
<line x1="533" y1="457" x2="541" y2="457" stroke="#151515" stroke-width="1.3"/>
<rect x="519.5" y="464" width="13.0" height="14" rx="0" stroke="#151515" stroke-width="1.87" fill="none"/>
<line x1="519.5" y1="467.5" x2="532.5" y2="467.5" stroke="#151515" stroke-width="1.4"/>
<line x1="519.5" y1="476" x2="532.5" y2="476" stroke="#151515" stroke-width="1.4"/>
<rect x="509" y="476" width="28.5" height="26" rx="3.5" stroke="#151515" stroke-width="1.87" fill="none"/>
<rect x="515" y="479" width="14.5" height="26" rx="0" stroke="#151515" stroke-width="1.87" fill="#fff"/>
<line x1="509.4" y1="483" x2="512.6" y2="483" stroke="#151515" stroke-width="1.0"/>
<line x1="511" y1="481" x2="511" y2="485" stroke="#151515" stroke-width="1.0"/>
<line x1="509.4" y1="494" x2="512.6" y2="494" stroke="#151515" stroke-width="1.0"/>
<line x1="511" y1="492" x2="511" y2="496" stroke="#151515" stroke-width="1.0"/>
<line x1="531.9" y1="486" x2="535.1" y2="486" stroke="#151515" stroke-width="1.0"/>
<line x1="533.5" y1="484" x2="533.5" y2="488" stroke="#151515" stroke-width="1.0"/>
<line x1="531.9" y1="497" x2="535.1" y2="497" stroke="#151515" stroke-width="1.0"/>
<line x1="533.5" y1="495" x2="533.5" y2="499" stroke="#151515" stroke-width="1.0"/>
</g>
<path d="M507.5,504.6 Q511,513 524,515.5 Q533,517.5 539.5,520.5" stroke="#151515" stroke-width="1.76" fill="none" stroke-linejoin="round"/>
<g transform="translate(0 4) rotate(12 506 522)">
<path d="M485,519 Q485,516.5 487.5,516.5 L527,516.5 L527,527.5 L512,527.5 Q511,522 506,522 Q501,522 500,527.5 L487.5,527.5 Q485,527.5 485,525 Z" stroke="#151515" stroke-width="1.87" fill="#fff" stroke-linejoin="round"/>
<circle cx="490.5" cy="521.5" r="2.8" stroke="#151515" stroke-width="1.3" fill="none"/>
<circle cx="515" cy="521.5" r="2.8" stroke="#151515" stroke-width="1.3" fill="none"/>
<line x1="487.5" y1="521.5" x2="493.5" y2="521.5" stroke="#151515" stroke-width="0.8"/>
<line x1="512" y1="521.5" x2="518" y2="521.5" stroke="#151515" stroke-width="0.8"/>
<line x1="506" y1="522" x2="506" y2="530" stroke="#151515" stroke-width="0.9"/>
</g>
</g></svg></body></html>
